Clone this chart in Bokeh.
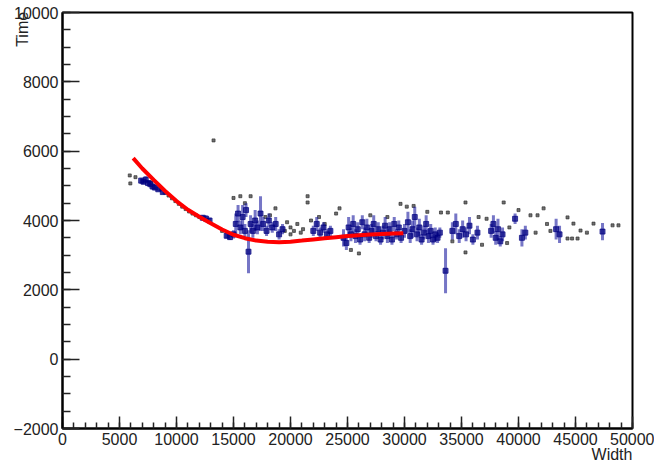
import numpy as np
from bokeh.plotting import figure
from bokeh.models import Range1d, FixedTicker
from bokeh.embed import file_html
from bokeh.resources import INLINE

# ---- data ----
blue_x = [6900, 7100, 7300, 7500, 7700, 7900, 8100, 8400, 8800, 12300, 12600, 12900, 14400, 14700, 15000,
          15200, 15400, 15600, 15800, 16000, 16100, 16316, 16500, 16700, 16900, 17100, 17370, 17600, 17900,
          18100, 18400, 18700, 19000, 19300, 22000, 22300, 22600, 22900, 23200, 23500, 24650, 24900, 25100,
          25300, 25500, 25700, 25900, 26100, 26300, 26500, 26700, 26900, 27100, 27300, 27500, 27700, 27900,
          28100, 28300, 28500, 28700, 28900, 29100, 29300, 29500, 29700, 30000, 30300, 30500, 30700, 30900,
          31100, 31300, 31500, 31700, 31900, 32100, 32300, 32500, 32700, 32900, 33100, 33600, 34200, 34500,
          34800, 35100, 35400, 35700, 36000, 36400, 37600, 37800, 38000, 38200, 38400, 38600, 39700, 40300,
          40600, 43300, 43600, 47370]
blue_y = [5150, 5120, 5180, 5080, 5050, 4980, 4950, 4900, 4820, 4080, 4050, 4000, 3560, 3520, 3600,
          3900, 4200, 3800, 4100, 3700, 4300, 3100, 3900, 3700, 4000, 3800, 4200, 3900, 3700,
          4000, 3800, 3900, 3600, 3750, 3700, 3900, 3650, 3800, 3600, 3700, 3500, 3350, 3800,
          3600, 3900, 3550, 3750, 3450, 3950, 3600, 3800, 3500, 3700, 3900, 3550, 3750, 3450,
          3650, 3850, 3550, 3750, 3450, 3900, 3600, 3800, 3500, 3700, 3950, 3550, 3750, 4100,
          3600, 3800, 3450, 3650, 3900, 3550, 3700, 3450, 3600, 3500, 3650, 2550, 3700, 3900,
          3550, 3750, 3600, 3850, 3450, 3650, 3700, 3900, 3500, 3750, 3400, 3600, 4050, 3500,
          3650, 3750, 3600, 3680]
blue_err = [80, 80, 100, 80, 100, 80, 80, 60, 60, 80, 100, 80, 80, 80, 120,
            300, 250, 200, 350, 200, 200, 620, 250, 200, 300, 200, 500, 200, 150,
            200, 150, 200, 150, 150, 150, 200, 150, 150, 150, 150, 250, 200, 300,
            200, 250, 200, 200, 150, 200, 200, 250, 150, 200, 250, 150, 200, 150,
            200, 250, 200, 200, 150, 200, 150, 200, 150, 200, 300, 200, 250, 300,
            200, 250, 150, 200, 250, 200, 200, 150, 200, 150, 150, 650, 250, 300,
            200, 250, 200, 250, 150, 200, 200, 250, 200, 300, 150, 200, 150, 250,
            200, 300, 250, 250]

black_x = [5900, 5950, 6400, 7800, 8600, 9000, 9300, 9600, 9900, 10200, 10500, 10800, 11100, 11400, 11700,
           12000, 13250, 15000, 15600, 16500, 16000, 18680, 18200, 19700, 20000, 20300, 20600, 20900, 21100,
           21500, 21500, 20000, 19500, 21800, 24000, 24300, 25300, 26000, 29650, 30200, 30800, 33200, 33800,
           34200, 35350, 35350, 36800, 37200, 38700, 39200, 41050, 41670, 42200, 41500, 42800, 44300, 44820,
           45440, 44300, 44700, 45180, 46580, 48250, 48770, 46000, 42500, 40000, 39000, 36500, 32000, 28500,
           27000, 23000, 22500, 17800, 14000]
black_y = [5300, 5070, 5250, 5100, 4900, 4800, 4720, 4640, 4560, 4480, 4400, 4330, 4260, 4200, 4150,
           4100, 6310, 4650, 4700, 4700, 4500, 4350, 4150, 3950, 3800, 3700, 3900, 3650, 3750,
           4700, 4520, 3600, 3700, 4000, 4200, 4350, 3150, 3050, 4480, 4400, 4420, 4230, 4230,
           3400, 4520, 3080, 3300, 4050, 4520, 3800, 4150, 4150, 4350, 3650, 3700, 4090, 3910,
           3710, 3480, 3480, 3480, 3910, 3860, 3860, 3650, 3900, 4300, 3350, 4100, 4250, 4100,
           4150, 3900, 4100, 4100, 3700]

fit_x = [6200, 7000, 8000, 9000, 10000, 11000, 12000, 13000, 14000, 15000, 16000, 17000, 18000,
         19000, 20000, 21000, 22000, 23000, 24000, 25000, 26000, 27000, 28000, 29000, 29900]
fit_y = [5800, 5500, 5170, 4850, 4560, 4310, 4110, 3920, 3740, 3590, 3490, 3420, 3385,
         3375, 3390, 3420, 3455, 3490, 3520, 3550, 3575, 3595, 3610, 3625, 3635]

x_ticks = [0, 5000, 10000, 15000, 20000, 25000, 30000, 35000, 40000, 45000, 50000]
y_ticks = [-2000, 0, 2000, 4000, 6000, 8000, 10000]
x_minor = list(range(0, 50001, 1000))
y_minor = list(range(-2000, 10001, 500))

FONT = "Liberation Sans"
NBSP = "\u00a0"

p = figure(width=654, height=467, output_backend="svg", toolbar_location=None,
           x_range=Range1d(0, 50000), y_range=Range1d(-2000, 10000),
           min_border_left=62, min_border_right=22, min_border_top=12, min_border_bottom=39)
p.background_fill_color = "white"
p.border_fill_color = "white"
p.outline_line_color = "black"
p.outline_line_width = 2
p.grid.visible = False

for ax, ticks, minor, tin, mtin in ((p.xaxis[0], x_ticks, x_minor, 12, 6),
                                     (p.yaxis[0], y_ticks, y_minor, 17, 8)):
    ax.ticker = FixedTicker(ticks=ticks, minor_ticks=minor)
    ax.major_tick_in = tin
    ax.major_tick_out = 0
    ax.minor_tick_in = mtin
    ax.minor_tick_out = 0
    ax.axis_line_width = 2
    ax.axis_line_color = "black"
    ax.major_tick_line_width = 1.5
    ax.minor_tick_line_width = 1.5
    ax.major_tick_line_color = "#222"
    ax.minor_tick_line_color = "#222"
    ax.major_label_text_font = FONT
    ax.major_label_text_font_size = "16px"
    ax.major_label_text_color = "#222"
    ax.axis_label_text_font = FONT
    ax.axis_label_text_font_size = "16px"
    ax.axis_label_text_font_style = "normal"
    ax.axis_label_text_color = "#222"

p.xaxis.major_label_standoff = 4
p.yaxis.major_label_standoff = 4
# ROOT-style titles sit at the far end of each axis: leading no-break spaces
# push the (centred) label's visible text to the axis end while the whole
# label box stays inside the canvas
p.xaxis.axis_label = NBSP * 119 + "Width"
p.xaxis.axis_label_standoff = -2
p.yaxis.axis_label = NBSP * 86 + "Time"
p.yaxis.axis_label_standoff = -20

# black points
p.scatter(black_x, black_y, size=3, marker="square", color="#333333", alpha=0.7)

# blue points with error bars
bx = np.array(blue_x, dtype=float)
by = np.array(blue_y, dtype=float)
be = np.array(blue_err, dtype=float)
p.segment(x0=bx, y0=by - be, x1=bx, y1=by + be, line_color="#1a1aa0", line_width=3, line_alpha=0.6)
p.scatter(bx, by, size=5, marker="square", fill_color="#000080", line_color="#000080", alpha=0.7)

# fit curve
p.line(fit_x, fit_y, line_color="#ff0000", line_width=4)

open("out.html", "w").write(file_html(p, INLINE))
